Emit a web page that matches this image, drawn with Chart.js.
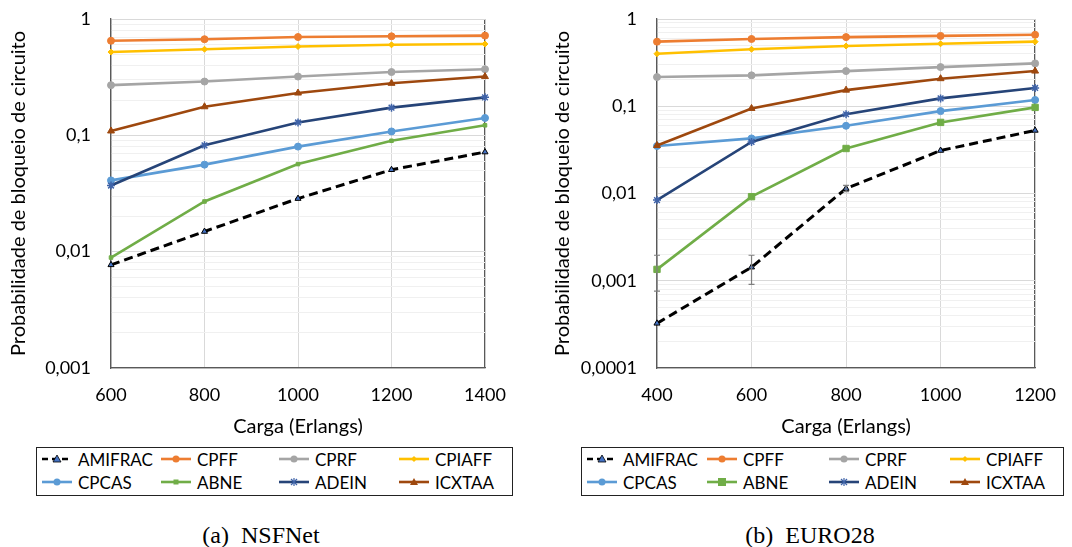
<!DOCTYPE html>
<html><head><meta charset="utf-8">
<script src="https://cdn.jsdelivr.net/npm/chart.js@4.4.1/dist/chart.umd.min.js"></script>
<style>
html,body{margin:0;padding:0;background:#fff;}
body{width:1072px;height:547px;position:relative;overflow:hidden;font-family:Lato,sans-serif;}
.cv{position:absolute;top:0;}
.legend{position:absolute;top:447px;height:49px;border:1px solid #222;box-sizing:border-box;}
.item{position:absolute;display:flex;align-items:center;font-size:17px;color:#000;height:22px;white-space:nowrap;}
.item svg{margin-right:6px;display:block}
.cap{position:absolute;top:523px;font-family:"Liberation Serif",serif;font-size:24px;line-height:24px;transform:translateX(-50%);white-space:nowrap;color:#000;}
</style></head>
<body>
<div class="cv" style="left:0;width:535px;height:445px"><canvas id="c1"></canvas></div>
<div class="cv" style="left:540px;width:532px;height:445px"><canvas id="c2"></canvas></div>
<div class="legend" id="lg1" style="left:36px;width:477px"></div>
<div class="legend" id="lg2" style="left:581px;width:483px"></div>
<div class="cap" style="left:261px">(a)&nbsp; NSFNet</div>
<div class="cap" style="left:810px">(b)&nbsp; EURO28</div>
<script>
// ---------- DATA ----------
const seriesNames = ['AMIFRAC','CPFF','CPRF','CPIAFF','CPCAS','ABNE','ADEIN','ICXTAA'];

const nsfLoads = ['600','800','1000','1200','1400'];
const nsfAMIFRAC = [0.0077, 0.0149, 0.0286, 0.0506, 0.0718];
const nsfCPFF    = [0.65, 0.67, 0.70, 0.71, 0.72];
const nsfCPRF    = [0.27, 0.29, 0.32, 0.35, 0.37];
const nsfCPIAFF  = [0.52, 0.55, 0.58, 0.60, 0.61];
const nsfCPCAS   = [0.041, 0.056, 0.080, 0.108, 0.141];
const nsfABNE    = [0.0089, 0.027, 0.0566, 0.0898, 0.122];
const nsfADEIN   = [0.037, 0.082, 0.129, 0.173, 0.212];
const nsfICXTAA  = [0.109, 0.176, 0.231, 0.28, 0.32];
const nsfDecades = [0.001, 0.01, 0.1, 1];

const euroLoads = ['400','600','800','1000','1200'];
const euroAMIFRAC = [0.000325, 0.00143, 0.0114, 0.0311, 0.0528];
const euroCPFF    = [0.55, 0.59, 0.62, 0.64, 0.66];
const euroCPRF    = [0.216, 0.226, 0.253, 0.281, 0.31];
const euroCPIAFF  = [0.40, 0.45, 0.49, 0.52, 0.55];
const euroCPCAS   = [0.035, 0.0428, 0.0597, 0.088, 0.118];
const euroABNE    = [0.00135, 0.0092, 0.0328, 0.0653, 0.097];
const euroADEIN   = [0.0084, 0.039, 0.081, 0.123, 0.162];
const euroICXTAA  = [0.0355, 0.0944, 0.153, 0.207, 0.253];
const euroDecades = [0.0001, 0.001, 0.01, 0.1, 1];
// error bars (EURO28): category index, low, high
const euroErrIndex = [0, 1, 2];
const euroErrLow   = [0.00076, 0.00091, 0.0105];
const euroErrHigh  = [0.00196, 0.00196, 0.0124];

// ---------- STYLES ----------
const styles = {
  AMIFRAC:{color:'#000000', ps:'triangle', r:3.5, bg:'#4472C4', pb:'#000000', dash:[9,5], w:3},
  CPFF:{color:'#ED7D31', ps:'circle', r:3.5},
  CPRF:{color:'#A5A5A5', ps:'circle', r:3.5},
  CPIAFF:{color:'#FFC000', ps:'rectRot', r:3},
  CPCAS:{color:'#5B9BD5', ps:'circle', r:3.5},
  ABNE:{color:'#70AD47', ps:'rect', r:2.5},
  ADEIN:{color:'#264478', ps:'star', r:4, pb:'#3F63A8'},
  ICXTAA:{color:'#9E480E', ps:'triangle', r:4}
};

function buildDatasets(values, abneSquare){
  return seriesNames.map((n,i)=>{
    const s = styles[n];
    const r = (n==='ABNE' && abneSquare) ? 4.5 : s.r;
    return {
      label:n, data:values[i],
      borderColor:s.color, borderWidth:s.w||2.6, borderDash:s.dash||[],
      pointStyle:s.ps, pointRadius:r, pointHoverRadius:r,
      pointBackgroundColor:s.bg||s.color, pointBorderColor:s.pb||s.color,
      pointBorderWidth:(n==='ADEIN')?1.5:1, tension:0, clip:false, order:8-i
    };
  });
}

const errorBarPlugin = {
  id:'errbars',
  afterDatasetsDraw(chart, args, opts){
    if(!opts || !opts.idx) return;
    const ctx = chart.ctx, xs = chart.scales.x, ys = chart.scales.y;
    ctx.save();
    ctx.strokeStyle = '#7F7F7F'; ctx.lineWidth = 1.2;
    opts.idx.forEach((ix,k)=>{
      const x = xs.getPixelForValue(ix);
      const y1 = ys.getPixelForValue(opts.lo[k]), y2 = ys.getPixelForValue(opts.hi[k]);
      ctx.beginPath();
      ctx.moveTo(x,y1); ctx.lineTo(x,y2);
      ctx.moveTo(x-3,y1); ctx.lineTo(x+3,y1);
      ctx.moveTo(x-3,y2); ctx.lineTo(x+3,y2);
      ctx.stroke();
    });
    ctx.restore();
  }
};

function isDecade(v){ const l = Math.log10(v); return Math.abs(l-Math.round(l))<1e-9; }

function makeChart(id, labels, values, decades, yWidth, padRight, titlePad, err, abneSquare){
  const nLast = labels.length-1;
  return new Chart(document.getElementById(id), {
    type:'line',
    data:{labels:labels, datasets:buildDatasets(values, abneSquare)},
    plugins:[errorBarPlugin],
    options:{
      responsive:true, maintainAspectRatio:false, animation:false,
      layout:{padding:{top:19, right:padRight, left:0, bottom:0}},
      plugins:{legend:{display:false}, tooltip:{enabled:false}, errbars:err},
      scales:{
        x:{
          type:'category', offset:false,
          grid:{color:(c)=> c.index===nLast ? '#595959' : '#D9D9D9', lineWidth:(c)=>c.index===nLast?1.3:1, drawTicks:false},
          border:{color:'#595959', width:1.3},
          ticks:{font:{family:'Lato', size:18}, color:'#000', padding:16, maxRotation:0},
          title:{display:true, text:'Carga (Erlangs)', font:{family:'Lato', size:20}, color:'#000', padding:{top:0,bottom:6}},
          afterFit(s){ s.height = 445-368; }
        },
        y:{
          type:'logarithmic', min:decades[0], max:decades[decades.length-1],
          afterBuildTicks(s){
            const t=[];
            for(let d=0; d<decades.length-1; d++){
              for(let k=1;k<=9;k++) t.push({value:Number((k*decades[d]).toPrecision(3))});
            }
            t.push({value:decades[decades.length-1]});
            s.ticks = t;
          },
          grid:{color:(c)=> (c.tick && isDecade(c.tick.value)) ? '#D9D9D9' : '#F0F0F0', drawTicks:false},
          border:{color:'#595959', width:1.3},
          ticks:{autoSkip:false, font:{family:'Lato', size:18}, color:'#000', padding:20,
            callback:(v)=> isDecade(v) ? String(v).replace('.',',') : ''},
          title:{display:true, text:'Probabilidade de bloqueio de circuito', font:{family:'Lato', size:20}, color:'#000', padding:{top:titlePad,bottom:0}},
          afterFit(s){ s.width = yWidth; s.paddingTop = 0; s.paddingBottom = 0; }
        }
      }
    }
  });
}

makeChart('c1', nsfLoads, [nsfAMIFRAC,nsfCPFF,nsfCPRF,nsfCPIAFF,nsfCPCAS,nsfABNE,nsfADEIN,nsfICXTAA], nsfDecades, 111, 50, 7, null, false);
makeChart('c2', euroLoads, [euroAMIFRAC,euroCPFF,euroCPRF,euroCPIAFF,euroCPCAS,euroABNE,euroADEIN,euroICXTAA], euroDecades, 117, 35, 11, {idx:euroErrIndex, lo:euroErrLow, hi:euroErrHigh}, true);

// ---------- LEGENDS (HTML) ----------
function markerSvg(n, abneSquare){
  const s = styles[n];
  const fill = s.bg||s.color, stroke = s.pb||s.color;
  let line = `<line x1="0" y1="6" x2="30" y2="6" stroke="${s.color}" stroke-width="2.6" ${s.dash?'stroke-dasharray="6,4"':''}/>`;
  let m = '';
  const cx=15, cy=6;
  if(s.ps==='circle') m=`<circle cx="${cx}" cy="${cy}" r="3.5" fill="${fill}"/>`;
  else if(s.ps==='triangle') m=`<polygon points="${cx},${cy-4} ${cx+4},${cy+3} ${cx-4},${cy+3}" fill="${fill}" stroke="${stroke}" stroke-width="${n==='AMIFRAC'?0.8:0}"/>`;
  else if(s.ps==='rectRot') m=`<polygon points="${cx},${cy-3} ${cx+3},${cy} ${cx},${cy+3} ${cx-3},${cy}" fill="${fill}"/>`;
  else if(s.ps==='rect'){ const r = abneSquare?4:2.5; m=`<rect x="${cx-r}" y="${cy-r}" width="${2*r}" height="${2*r}" fill="${fill}"/>`; }
  else if(s.ps==='star') m=`<g stroke="${stroke}" stroke-width="1.2"><line x1="${cx-3}" y1="${cy-3}" x2="${cx+3}" y2="${cy+3}"/><line x1="${cx-3}" y1="${cy+3}" x2="${cx+3}" y2="${cy-3}"/><line x1="${cx}" y1="${cy-4}" x2="${cx}" y2="${cy+4}"/></g>`;
  return `<svg width="30" height="12" viewBox="0 0 30 12">${line}${m}</svg>`;
}
function buildLegend(id, colX, abneSquare){
  const el = document.getElementById(id);
  seriesNames.forEach((n,i)=>{
    const d = document.createElement('div');
    d.className='item';
    d.style.left = colX[i%4]+'px';
    d.style.top = (i<4?0:23)+'px';
    d.innerHTML = markerSvg(n, abneSquare)+'<span>'+n+'</span>';
    el.appendChild(d);
  });
}
buildLegend('lg1', [5,124,242,362], false);
buildLegend('lg2', [5,125,247,368], true);
</script>
</body></html>
